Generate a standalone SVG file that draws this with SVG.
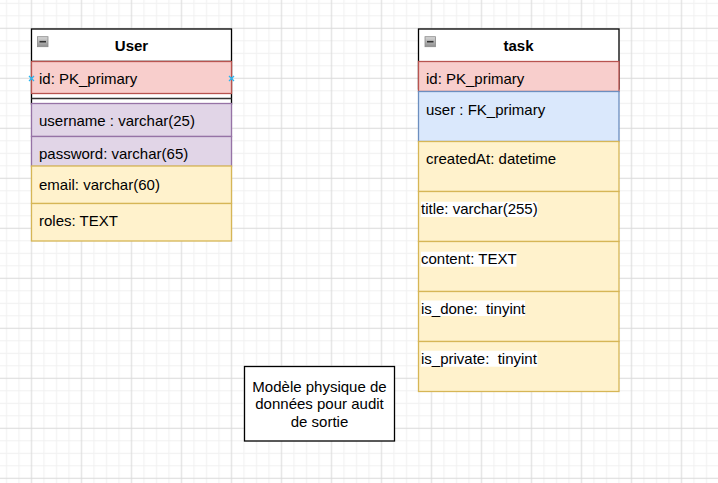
<svg xmlns="http://www.w3.org/2000/svg" width="718" height="483" viewBox="0 0 718 483">
<defs>
<pattern id="grid" patternUnits="userSpaceOnUse" x="0.25" y="-2.95" width="50" height="50">
<g stroke="#f0f0f0" stroke-width="1">
<line x1="6.25" y1="0" x2="6.25" y2="50"/>
<line x1="18.75" y1="0" x2="18.75" y2="50"/>
<line x1="43.75" y1="0" x2="43.75" y2="50"/>
<line x1="0" y1="6.25" x2="50" y2="6.25"/>
<line x1="0" y1="18.75" x2="50" y2="18.75"/>
<line x1="0" y1="43.75" x2="50" y2="43.75"/>
</g>
<g stroke="#d9d9d9" stroke-width="1">
<line x1="31.25" y1="0" x2="31.25" y2="50"/>
<line x1="0" y1="31.25" x2="50" y2="31.25"/>
</g>
</pattern>
<linearGradient id="iconGrad" x1="0" y1="0" x2="0" y2="1">
<stop offset="0" stop-color="#d8d8d8"/>
<stop offset="1" stop-color="#8f8f8f"/>
</linearGradient>
<g id="collapse">
<rect x="0" y="0" width="10.5" height="10" fill="url(#iconGrad)" stroke="#8a8a8a" stroke-width="0.8"/>
<line x1="2" y1="5" x2="8.5" y2="5" stroke="#333" stroke-width="1.6"/>
</g>
</defs>
<style>
text { font-family: "Liberation Sans", Arial, sans-serif; font-size: 15px; fill: #000; white-space: pre; }
.title { font-weight: bold; text-anchor: middle; }
.hdr { fill: #ffffff; stroke: #000000; stroke-width: 1.3; }
.red { fill: #f8cecc; stroke: #b85450; stroke-width: 1.3; }
.purple { fill: #e1d5e7; stroke: #9673a6; stroke-width: 1.3; }
.yellow { fill: #fff2cc; stroke: #d6b656; stroke-width: 1.3; }
.blue { fill: #dae8fc; stroke: #6c8ebf; stroke-width: 1.3; }
.lblbg { fill: #ffffff; }
.note { fill: #ffffff; stroke: #000000; stroke-width: 1.3; }
.mid { text-anchor: middle; }
.marker { stroke: #29b6f2; stroke-width: 1.3; }
</style>
<rect width="718" height="483" fill="#ffffff"/>
<rect width="718" height="483" fill="url(#grid)"/>

<g id="connectors"/>

<g id="node-user">
<rect class="hdr" x="31.5" y="29" width="200" height="75"/>
<line x1="31.5" y1="61.5" x2="231.5" y2="61.5" stroke="#000" stroke-width="1.3"/>
<line x1="31.5" y1="98.5" x2="231.5" y2="98.5" stroke="#333" stroke-width="1.5"/>
<use href="#collapse" x="37.5" y="36.7"/>
<text class="title" x="131.5" y="50.5">User</text>
<rect class="red" x="31.5" y="61.5" width="200" height="32"/>
<text x="39" y="84">id: PK_primary</text>
<rect class="purple" x="31.5" y="103.5" width="200" height="33"/>
<text x="39" y="125.5">username : varchar(25)</text>
<rect class="purple" x="31.5" y="136.5" width="200" height="30"/>
<text x="39" y="159">password: varchar(65)</text>
<rect class="yellow" x="31.5" y="166" width="200" height="37.5"/>
<text x="39" y="189.5">email: varchar(60)</text>
<rect class="yellow" x="31.5" y="203.5" width="200" height="37.5"/>
<text x="39" y="226">roles: TEXT</text>
<path class="marker" d="M29 76 L34 81 M34 76 L29 81"/>
<path class="marker" d="M229 76 L234 81 M234 76 L229 81"/>
</g>

<g id="node-task">
<rect class="hdr" x="418.5" y="29" width="200.5" height="60"/>
<use href="#collapse" x="425" y="36.7"/>
<text class="title" x="518.5" y="50.5">task</text>
<rect class="red" x="418.5" y="61.5" width="200.5" height="30"/>
<text x="426" y="84">id: PK_primary</text>
<rect class="blue" x="418.5" y="91.5" width="200.5" height="50"/>
<text x="426" y="114.5">user : FK_primary</text>
<rect class="yellow" x="418.5" y="141.5" width="200.5" height="50"/>
<text x="426" y="163.5">createdAt: datetime</text>
<rect class="yellow" x="418.5" y="191.5" width="200.5" height="50"/>
<rect class="lblbg" x="421" y="201.7" width="116.5" height="15.3"/>
<text x="421" y="214">title: varchar(255)</text>
<rect class="yellow" x="418.5" y="241.5" width="200.5" height="50"/>
<rect class="lblbg" x="421" y="251.7" width="95.5" height="15"/>
<text x="421" y="264">content: TEXT</text>
<rect class="yellow" x="418.5" y="291.5" width="200.5" height="50"/>
<rect class="lblbg" x="421" y="300.5" width="104" height="15.5"/>
<text x="421" y="313.5">is_done:  tinyint</text>
<rect class="yellow" x="418.5" y="341.5" width="200.5" height="50"/>
<rect class="lblbg" x="421" y="350.7" width="116.5" height="16"/>
<text x="421" y="363.5">is_private:  tinyint</text>
</g>

<g id="node-note">
<rect class="note" x="244.5" y="366.5" width="150" height="74.5"/>
<text class="mid" x="319.5" y="391.5">Modèle physique de</text>
<text class="mid" x="319.5" y="409">données pour audit</text>
<text class="mid" x="319.5" y="426.5">de sortie</text>
</g>
</svg>
